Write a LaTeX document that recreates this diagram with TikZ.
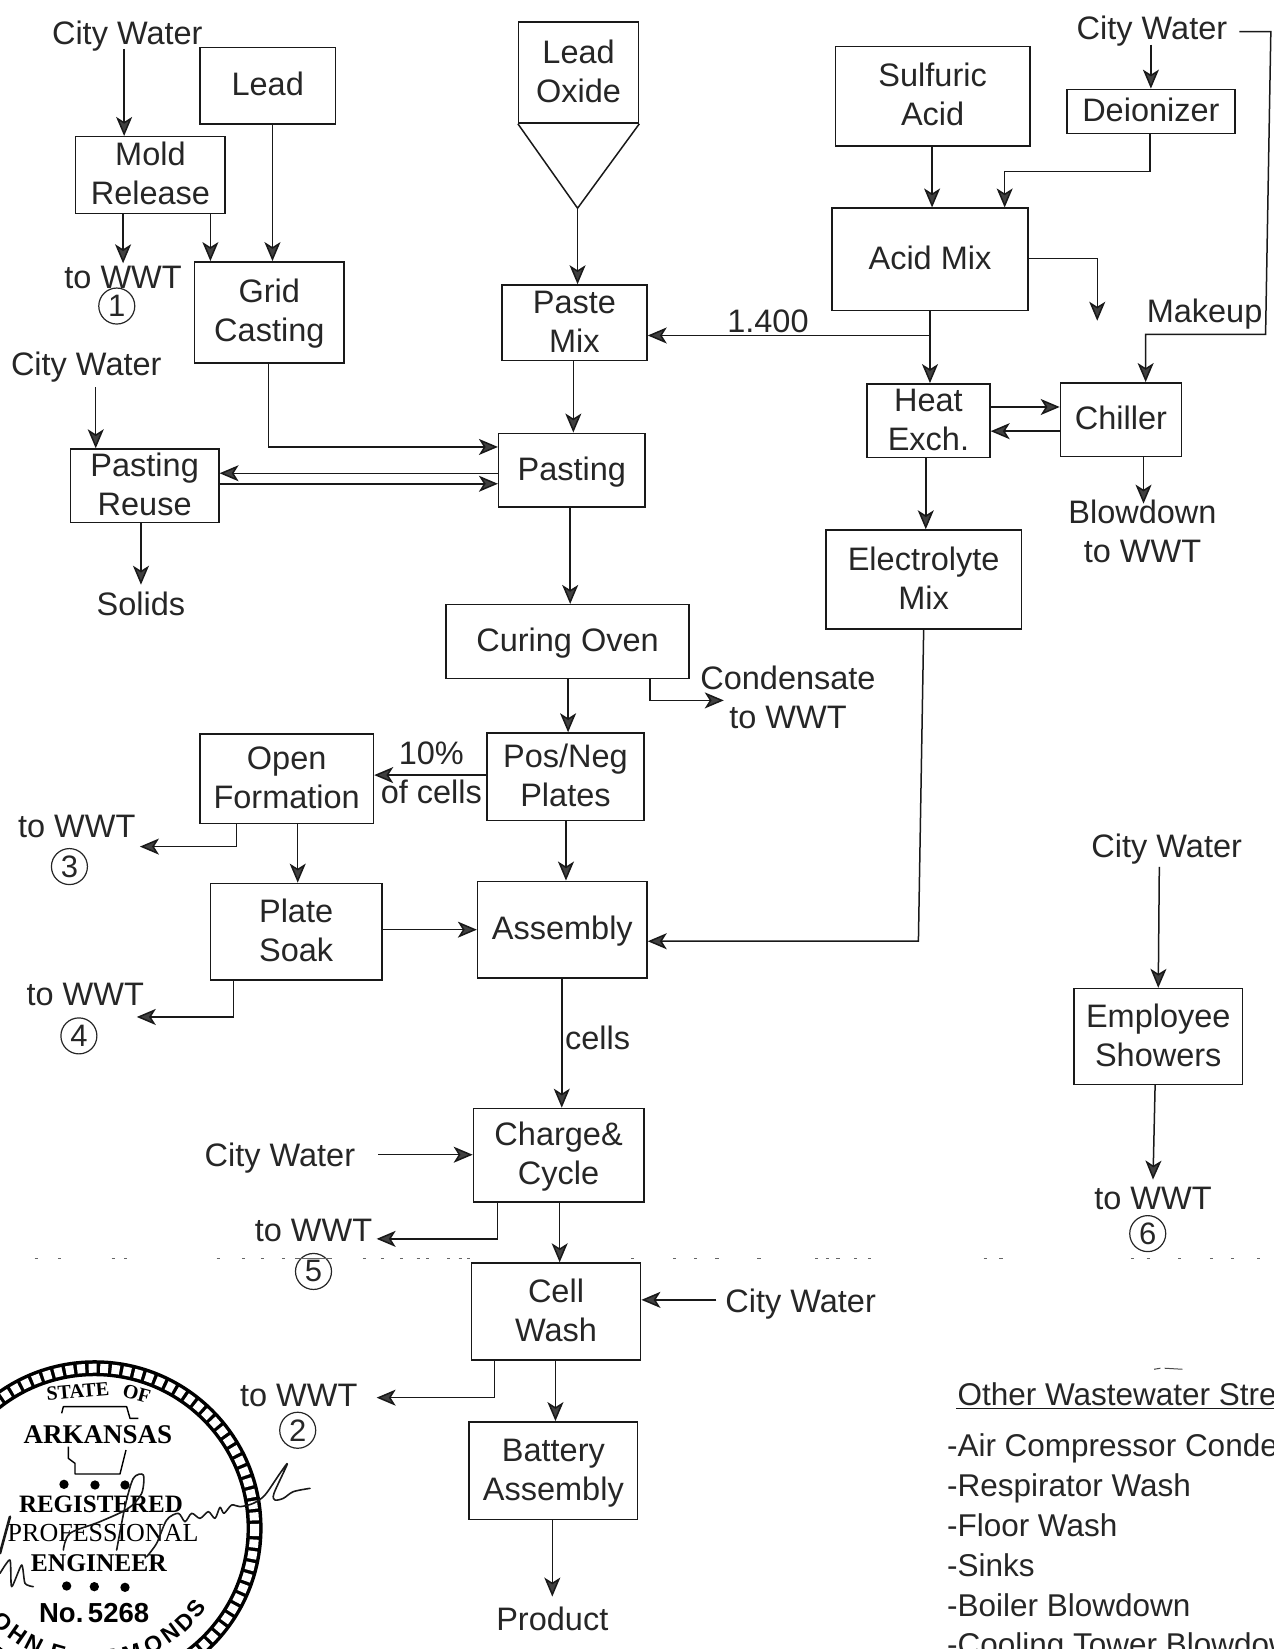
\documentclass[tikz,border=0pt]{standalone}
\usepackage{fontspec}
\setmainfont{Liberation Sans}
\newfontfamily\sealfont{Liberation Serif}
\usetikzlibrary{arrows.meta,calc}
\newcommand{\fs}[1]{\fontsize{#1pt}{39pt}\selectfont}
\tikzset{
  flow/.style={draw=black!90,line width=1.5pt,-{Stealth[length=19pt,width=16pt,inset=5pt,fill=black!75]}},
  plain/.style={draw=black!90,line width=1.5pt},
  lbl/.style={text=black!85,inner sep=0pt,outer sep=3pt,align=center,font=\fs{32.5}},
  boxx/.style={draw=black!90,line width=1.5pt,text=black!85,inner sep=0pt,font=\fs{32.5}},
  circ/.style={draw=black!85,circle,line width=1.2pt,inner sep=0pt,minimum size=36pt,text=black!85,font=\fs{31}},
  listx/.style={text=black!85,inner sep=0pt,anchor=west,font=\fs{31.5}},
  sealt/.style={inner sep=0pt,font=\sealfont\bfseries\fs{25}},
  rimt/.style={inner sep=0pt,font=\bfseries\fs{23}},
}
% \bx{name}{x1}{y1}{x2}{y2}{text}
\newcommand{\bx}[6]{%
  \pgfmathsetmacro{\bxw}{(#4-#2)*1.052}%
  \pgfmathsetmacro{\bxh}{(#5-#3)*1.052}%
  \node[boxx,minimum width=\bxw pt,minimum height=\bxh pt] (#1) at ({(#2+#4)/2},{(#3+#5)/2})
    {\raisebox{-8.5pt}[0pt][0pt]{\begin{tabular}{@{}c@{}}#6\end{tabular}}};}
\begin{document}
\begin{tikzpicture}[x=1.05202pt,y=-1.05166pt]
\useasboundingbox (0,0) rectangle (1211,1568);
\clip (0,0) rectangle (1211,1568);
% boxes
\bx{lead}{190}{45}{319}{118}{Lead}
\bx{mold}{72}{130}{214}{203}{Mold\\Release}
\bx{grid}{185}{249}{327}{345}{Grid\\Casting}
\bx{oxide}{493}{21}{607}{117}{Lead\\Oxide}
\bx{paste}{477}{271}{615}{343}{Paste\\Mix}
\bx{reuse}{67}{427}{208}{497}{Pasting\\Reuse}
\bx{pasting}{474}{412}{613}{482}{Pasting}
\bx{curing}{424}{575}{655}{645}{Curing Oven}
\bx{plates}{463}{697}{612}{780}{Pos/Neg\\Plates}
\bx{open}{190}{698}{355}{783}{Open\\Formation}
\bx{soak}{200}{840}{363}{932}{Plate\\Soak}
\bx{assembly}{454}{838}{615}{930}{Assembly}
\bx{charge}{450}{1054}{612}{1143}{Charge\&\\Cycle}
\bx{wash}{448}{1201}{609}{1293}{Cell\\Wash}
\bx{battery}{446}{1352}{606}{1445}{Battery\\Assembly}
\bx{sulf}{794}{44}{979}{139}{Sulfuric\\Acid}
\bx{deion}{1014}{85}{1174}{127}{Deionizer}
\bx{acid}{791}{198}{977}{295}{Acid Mix}
\bx{heat}{824}{365}{941}{435}{Heat\\Exch.}
\bx{chiller}{1008}{364}{1123}{434}{Chiller}
\bx{elec}{785}{504}{971}{598}{Electrolyte\\Mix}
\bx{showers}{1021}{940}{1181}{1031}{Employee\\Showers}
% labels
\node[lbl] (cw1) at (121,34) {City Water};
\node[lbl] (cw2) at (82,349) {City Water};
\node[lbl] (cw3) at (1095,30) {City Water};
\node[lbl] (cw4) at (1109,807) {City Water};
\node[lbl] (cw5) at (266,1101) {City Water};
\node[lbl] (cw6) at (761,1240) {City Water};
\node[lbl] (w1) at (117,264) {to WWT};
\node[lbl] (w3) at (73,786) {to WWT};
\node[lbl] (w4) at (81,946) {to WWT};
\node[lbl] (w5) at (298,1170) {to WWT};
\node[lbl] (w2) at (284,1327) {to WWT};
\node[lbl] (w6) at (1096,1140) {to WWT};
\node[lbl] (solids) at (134,574) {Solids};
\node[lbl] (cond) at (749,663) {Condensate\\to WWT};
\node[lbl] (tenp) at (410,735) {10\%\\of cells};
\node[lbl] (cells) at (568,987) {cells};
\node[lbl] (product) at (525,1539) {Product};
\node[lbl] (blow) at (1086,505) {Blowdown\\to WWT};
\node[lbl] (makeup) at (1145,299) {Makeup};
\node[lbl] (spg) at (730,306) {1.400};
\node[circ] (n1) at (111,291) {1};
\node[circ] (n3) at (66,824) {3};
\node[circ] (n4) at (75,985) {4};
\node[circ] (n5) at (298,1209) {5};
\node[circ] (n2) at (283,1360) {2};
\node[circ] (n6) at (1091,1173) {6};
% other streams
\node[listx] (ows) at (910,1326) {Other Wastewater Stre};
\draw[plain,line width=1.2pt] (909,1339) -- (1211,1339);
\node[listx] (l1) at (900,1377) {-Air Compressor Conde};
\node[listx] (l2) at (900,1415) {-Respirator Wash};
\node[listx] (l3) at (900,1450) {-Floor Wash};
\node[listx] (l4) at (900,1488) {-Sinks};
\node[listx] (l5) at (900,1526) {-Boiler Blowdown};
\node[listx] (l6) at (900,1566) {-Cooling Tower Blowdow};
% free ends and funnel
\coordinate (tip) at (549,198);
\coordinate (acidout) at (1043,305);
\draw[plain] (oxide.south west) -- (tip) -- (oxide.south east);
% connectors
\draw[flow] ([yshift=5pt]118,0 |- cw1.south) -- (118,0 |- mold.north);
\draw[flow] (117,0 |- mold.south) -- (117,0 |- w1.north);
\draw[flow] (200,0 |- mold.south) -- (200,0 |- grid.north);
\draw[flow] (259,0 |- lead.south) -- (259,0 |- grid.north);
\draw[flow] (tip) -- (tip |- paste.north);
\draw[flow] (545,0 |- paste.south) -- (545,0 |- pasting.north);
\draw[flow] (255,0 |- grid.south) -- (255,425) -- (pasting.west |- 0,425);
\draw[flow] (pasting.west |- 0,450) -- (reuse.east |- 0,450);
\draw[flow] (reuse.east |- 0,460) -- (pasting.west |- 0,460);
\draw[flow] ([yshift=-2pt]91,0 |- cw2.south) -- (91,0 |- reuse.north);
\draw[flow] (134,0 |- reuse.south) -- ([yshift=4pt]134,0 |- solids.north);
\draw[flow] (542,0 |- pasting.south) -- (542,0 |- curing.north);
\draw[flow] (540,0 |- curing.south) -- (540,0 |- plates.north);
\draw[flow] (618,0 |- curing.south) -- (618,666) -- (688,666);
\draw[flow] (plates.west |- 0,737) -- (open.east |- 0,737);
\draw[flow] (225,0 |- open.south) -- (225,805) -- (133,805);
\draw[flow] (283,0 |- open.south) -- (283,0 |- soak.north);
\draw[flow] (soak.east |- 0,884) -- (assembly.west |- 0,884);
\draw[flow] (538,0 |- plates.south) -- (538,0 |- assembly.north);
\draw[flow] (222,0 |- soak.south) -- (222,967) -- (130,967);
\draw[flow] (534,0 |- assembly.south) -- (534,0 |- charge.north);
\draw[flow] (878,0 |- elec.south) -- (873,895) -- (assembly.east |- 0,895);
\draw[flow] ([xshift=20pt]cw5.east |- 0,1098) -- (charge.west |- 0,1098);
\draw[flow] (473,0 |- charge.south) -- (473,1178) -- (358,1178);
\draw[flow] (532,0 |- charge.south) -- (532,0 |- wash.north);
\draw[flow] ([xshift=-6pt]cw6.west |- 0,1236) -- (wash.east |- 0,1236);
\draw[flow] (470,0 |- wash.south) -- (470,1329) -- (358,1329);
\draw[flow] (528,0 |- wash.south) -- (528,0 |- battery.north);
\draw[flow] (525,0 |- battery.south) -- ([yshift=7pt]525,0 |- product.north);
\draw[flow] (886,0 |- sulf.south) -- (886,0 |- acid.north);
\draw[flow] ([yshift=5pt]1094,0 |- cw3.south) -- (1094,0 |- deion.north);
\draw[flow] (1093,0 |- deion.south) -- (1093,163) -- (955,163) -- (955,0 |- acid.north);
\draw[flow] (acid.east |- 0,246) -- (1043,246) -- (acidout);
\draw[flow] (884,0 |- acid.south) -- (884,0 |- heat.north);
\draw[flow] (884,319) -- (paste.east |- 0,319);
\draw[flow] (1178,30) -- (1208,30) -- (1203,318) -- (1089,318) -- (1089,0 |- chiller.north);
\draw[flow] (heat.east |- 0,387) -- (chiller.west |- 0,387);
\draw[flow] (chiller.west |- 0,410) -- (heat.east |- 0,410);
\draw[flow] (1087,0 |- chiller.south) -- ([yshift=-7pt]1087,0 |- blow.north);
\draw[flow] (880,0 |- heat.south) -- (880,0 |- elec.north);
\draw[flow] (1102,0 |- cw4.south) -- (1101,0 |- showers.north);
\draw[flow] (1098,0 |- showers.south) -- ([yshift=5pt]1096,0 |- w6.north);
% scan specks along the old page join
\foreach \a in {33,55,106,118,206,230,248,268,345,362,380,396,405,425,436,444,600,640,660,680,720,775,785,795,812,825,935,950,1075,1090,1120,1150,1170,1195}
  \draw[black!60,line width=0.8pt] (\a,1197) -- ++(3,0);
\draw[black!60,line width=0.9pt] (n5.west |- 0,1197) -- (n5.east |- 0,1197);
\draw[black!70,line width=1pt] (1097,1302) -- (1103,1301) (1107,1301) -- (1124,1302);
% seal
\def\scx{90}\def\scy{1453}
\draw[black,line width=16pt] (\scx,\scy) circle[radius=152];
\draw[white,line width=9pt,dash pattern=on 8pt off 3.5pt] (\scx,\scy) circle[radius=152];
\node[sealt,font=\sealfont\bfseries\fs{20},rotate=5] (s1) at (74,1323) {STATE};
\node[sealt,font=\sealfont\bfseries\fs{20},rotate=-15] (s2) at (130,1325) {OF};
\node[sealt,font=\sealfont\bfseries\fs{27}] (s3) at (93,1364) {ARKANSAS};
\node[sealt] (s4) at (96,1430) {REGISTERED};
\node[sealt,font=\sealfont\fs{26}] (s5) at (98,1458) {PROFESSIONAL};
\node[sealt,font=\sealfont\bfseries\fs{25.5}] (s6) at (94,1486) {ENGINEER};
\node[inner sep=0pt,font=\bfseries\fs{27.5}] (s7) at (89.5,1534) {No.\,5268};
\begin{scope}[shift={(0pt,-1250pt)},x=0.33333pt,y=-0.33333pt,line width=1.4pt,line join=round]
  \draw (185,490) -- (190,470) -- (380,470) -- (390,505) -- (415,505);
  \draw (205,590) -- (205,625) -- (225,640) -- (225,672) -- (360,672) -- (378,600);
  \foreach \p in {(192,703),(285,705),(375,705),(200,1008),(283,1010),(375,1012)}
    \fill \p circle[radius=14];
\end{scope}
\foreach \ang/\ltr in {134/O,125/H,117/N,106/E,84/M,73/M,63/O,54/N,46/D,38.5/S}
  \node[rimt,rotate={90-\ang}] at ({\scx-1+125*cos(\ang)},{\scy-1+125*sin(\ang)}) {\ltr};
% signature
\begin{scope}[shift={(0pt,-1450pt)},x=0.33333pt,y=-0.33333pt,line width=1.6pt,line join=round,line cap=round]
  \draw[black!90] plot[smooth,tension=0.5] coordinates {(930,115) (880,125) (850,145) (825,150) (822,130) (862,42) (840,70) (795,135) (760,160) (720,170) (695,165) (672,190) (660,172) (645,205) (625,185) (600,205) (575,190) (555,215) (535,190) (500,210) (470,280) (440,320)};
  \draw[black!90] plot[smooth,tension=0.5] coordinates {(350,300) (375,170) (400,85) (430,75) (425,130) (385,175) (300,215) (210,250) (190,300)};
  \draw[black!90,line width=2.6pt] (30,200) -- (0,310);
  \draw[black!90] plot[smooth,tension=0.4] coordinates {(0,370) (30,330) (35,410) (65,345) (75,400) (100,410)};
\end{scope}
\end{tikzpicture}
\end{document}
